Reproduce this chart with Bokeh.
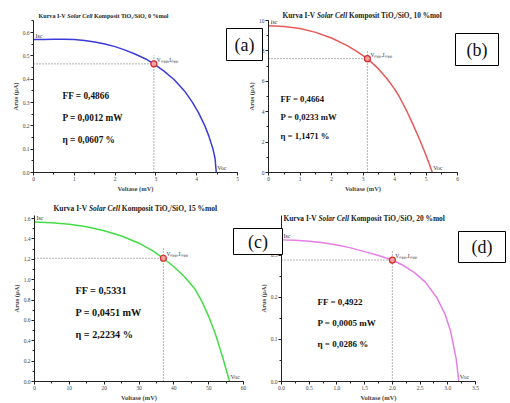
from bokeh.plotting import figure
from bokeh.models import Range1d, SingleIntervalTicker, Label, BoxAnnotation, PrintfTickFormatter
from bokeh.layouts import column, row
from bokeh.embed import file_html
from bokeh.resources import INLINE

# ---------------- data ----------------
panel_ids = ["(a)", "(b)", "(c)", "(d)"]
mol_pct = ["0", "10", "15", "20"]
ff_values = ["0,4866", "0,4664", "0,5331", "0,4922"]
p_values = ["0,0012", "0,0233", "0,0451", "0,0005"]
eta_values = ["0,0607", "1,1471", "2,2234", "0,0286"]

v_a = [0, 0.25, 0.5, 0.75, 1.0, 1.25, 1.5, 1.75, 2.0, 2.25, 2.5, 2.75, 2.95, 3.2, 3.45, 3.7, 3.9, 4.05, 4.2, 4.3, 4.4, 4.45, 4.48]
i_a = [0.570, 0.571, 0.572, 0.572, 0.570, 0.566, 0.560, 0.551, 0.540, 0.525, 0.507, 0.487, 0.466, 0.435, 0.398, 0.350, 0.300, 0.255, 0.200, 0.155, 0.100, 0.060, 0.0]

v_b = [0, 0.5, 1.0, 1.5, 2.0, 2.5, 2.8, 3.14, 3.45, 3.75, 4.0, 4.15, 4.4, 4.6, 4.8, 4.95, 5.08, 5.2]
i_b = [9.65, 9.6, 9.47, 9.22, 8.85, 8.35, 7.97, 7.49, 6.9, 6.2, 5.5, 5.0, 4.0, 3.1, 2.15, 1.4, 0.7, 0.0]

v_c = [0, 5, 10, 15, 20, 25, 30, 34, 37, 40, 43, 46, 48, 50, 52, 54, 55, 56]
i_c = [1.565, 1.559, 1.544, 1.519, 1.481, 1.429, 1.358, 1.283, 1.21, 1.127, 1.031, 0.911, 0.79, 0.64, 0.46, 0.24, 0.12, 0.0]

v_d = [0, 0.25, 0.5, 0.75, 1.0, 1.25, 1.5, 1.75, 2.0, 2.2, 2.4, 2.6, 2.8, 2.95, 3.05, 3.15, 3.2]
i_d = [0.337, 0.336, 0.334, 0.330, 0.325, 0.318, 0.309, 0.300, 0.289, 0.276, 0.259, 0.236, 0.200, 0.160, 0.120, 0.055, 0.0]

vmpp = [2.95, 3.14, 37.0, 2.0]
impp = [0.466, 7.49, 1.21, 0.289]
voc = [4.48, 5.2, 56.0, 3.2]
isc = [0.570, 9.65, 1.565, 0.337]

volt = [v_a, v_b, v_c, v_d]
curr = [i_a, i_b, i_c, i_d]

# ---------------- layout / style ----------------
W, H = 510, 403
TOP_H = 199
SPLIT_TOP = 244
SPLIT_BOT = 255
FONT = "Liberation Serif"

# figure origin/size in page px, frame in page px
specs = [
    dict(org=(0, 0, SPLIT_TOP, TOP_H), frame=(33, 237, 12, 175), xr=(0, 5), yr=(0, 0.652), xt=1, yt=0.1,
         xf="%d", yf="%.1f", color="#3b3bdc", title=(38, 15, 6.1), stats=(62, (95, 117, 139), 9.3)),
    dict(org=(SPLIT_TOP, 0, W - SPLIT_TOP, TOP_H), frame=(262, 457, 20, 172), xr=(0, 6), yr=(0, 10), xt=1, yt=2,
         xf="%d", yf="%d", color="#e65a5a", title=(282, 15, 7.3), stats=(280, (98, 116, 135), 8.7)),
    dict(org=(0, TOP_H, SPLIT_BOT, H - TOP_H), frame=(34, 243, 215, 382), xr=(0, 60), yr=(0, 1.63), xt=10, yt=0.2,
         xf="%d", yf="%.1f", color="#45dd45", title=(53, 208, 7.5), stats=(75, (290, 312, 334), 10.2)),
    dict(org=(SPLIT_BOT, TOP_H, W - SPLIT_BOT, H - TOP_H), frame=(281, 475, 213, 386), xr=(0, 3.5), yr=(0, 0.395),
         xt=0.5, yt=0.1, xf="%.1f", yf="%.1f", color="#e57ee5", title=(283, 218, 7.4), stats=(317, (301, 322, 343), 9.0)),
]
boxes = [(226, 28, 262, 60), (455, 33, 498, 65), (233, 228, 282, 254), (458, 231, 505, 262)]

figs = []
for k, sp in enumerate(specs):
    ox, oy, w, h = sp["org"]
    L, R, T, B = sp["frame"]
    p = figure(width=w, height=h, output_backend="svg", toolbar_location=None,
               x_range=Range1d(*sp["xr"]), y_range=Range1d(*sp["yr"]),
               min_border_left=L - ox, min_border_right=ox + w - R,
               min_border_top=T - oy, min_border_bottom=oy + h - B,
               background_fill_color="white", border_fill_color="white", outline_line_color=None)
    p.xgrid.visible = False
    p.ygrid.visible = False
    p.xaxis.ticker = SingleIntervalTicker(interval=sp["xt"], num_minor_ticks=2)
    p.yaxis.ticker = SingleIntervalTicker(interval=sp["yt"], num_minor_ticks=2)
    p.xaxis.formatter = PrintfTickFormatter(format=sp["xf"])
    p.yaxis.formatter = PrintfTickFormatter(format=sp["yf"])
    p.xaxis.axis_label = "Voltase (mV)"
    p.yaxis.axis_label = "Arus (μA)"
    for ax in (p.xaxis[0], p.yaxis[0]):
        ax.axis_line_color = "#222222"
        ax.major_tick_line_color = "#222222"
        ax.minor_tick_line_color = "#222222"
        ax.major_tick_in = 0
        ax.major_tick_out = 3
        ax.minor_tick_in = 0
        ax.minor_tick_out = 2
        ax.major_label_text_font = FONT
        ax.major_label_text_font_size = "5.5px"
        ax.major_label_text_color = "#444444"
        ax.major_label_standoff = 1
        ax.axis_label_text_font = FONT
        ax.axis_label_text_font_style = "bold"
        ax.axis_label_text_font_size = "6.5px"
        ax.axis_label_standoff = 1

    vm, im = vmpp[k], impp[k]
    p.segment(x0=[0], y0=[im], x1=[vm], y1=[im], line_color="#666666", line_dash="1 2", line_width=1)
    p.segment(x0=[vm], y0=[0], x1=[vm], y1=[im * 1.08], line_color="#666666", line_dash="1 2", line_width=1)
    p.line(volt[k], curr[k], line_color=sp["color"], line_width=1.5)
    p.scatter([vm], [im], size=6, fill_color="#f3a0a0", line_color="#d42a2a", line_width=1.2)

    p.add_layout(Label(x=0, y=isc[k], x_offset=2, y_offset=1, text="Isc", text_font=FONT,
                       text_font_size="6px", text_baseline="bottom", text_color="#333333"))
    p.add_layout(Label(x=voc[k], y=0, x_offset=1, y_offset=2, text="Voc", text_font=FONT,
                       text_font_size="6px", text_baseline="bottom", text_color="#333333"))
    p.add_layout(Label(x=vm, y=im, x_offset=3, y_offset=1, text="Vₘₚₚ,Iₘₚₚ", text_font=FONT,
                       text_font_size="5.5px", text_baseline="bottom", text_color="#333333"))
    figs.append(p)

# transparent overlay spanning the whole page: titles, results and panel letters
ov = figure(width=W, height=H, output_backend="svg", toolbar_location=None,
            x_range=Range1d(0, W), y_range=Range1d(H, 0), min_border=0,
            x_axis_location=None, y_axis_location=None,
            background_fill_color=None, border_fill_color=None, outline_line_color=None)
ov.xgrid.visible = False
ov.ygrid.visible = False
ov.margin = (-H, 0, 0, 0)

for k, sp in enumerate(specs):
    tx, ty, s = sp["title"]
    xa = tx
    xb = xa + 4.722 * s
    xc = xb + 4.39 * s
    for xx, txt, style in [(xa, "Kurva I-V", "bold"), (xb, "Solar Cell", "bold italic"),
                           (xc, "Komposit TiO₂/SiO₂ " + mol_pct[k] + " %mol", "bold")]:
        ov.add_layout(Label(x=xx, y=ty, text=txt, text_font=FONT, text_font_style=style,
                            text_font_size=f"{s:.1f}px", text_baseline="middle", text_color="#222222"))
    sx0, sys_, fs = sp["stats"]
    lines = ["FF = " + ff_values[k], "P = " + p_values[k] + " mW", "η = " + eta_values[k] + " %"]
    for yy, txt in zip(sys_, lines):
        ov.add_layout(Label(x=sx0, y=yy, text=txt, text_font=FONT, text_font_style="bold",
                            text_font_size=f"{fs:.1f}px", text_baseline="middle", text_color="#111111"))
    bx0, by0, bx1, by1 = boxes[k]
    ov.add_layout(BoxAnnotation(left=bx0, right=bx1, top=by0, bottom=by1,
                                fill_color="white", fill_alpha=1.0, line_color="black",
                                line_width=1, line_alpha=1.0))
    ov.add_layout(Label(x=(bx0 + bx1) / 2, y=(by0 + by1) / 2, text=panel_ids[k], text_font=FONT,
                        text_font_size="18px", text_align="center", text_baseline="middle",
                        text_color="#111111"))

layout = column(row(figs[0], figs[1]), row(figs[2], figs[3]), ov)

open("out.html", "w").write(file_html(layout, INLINE))
